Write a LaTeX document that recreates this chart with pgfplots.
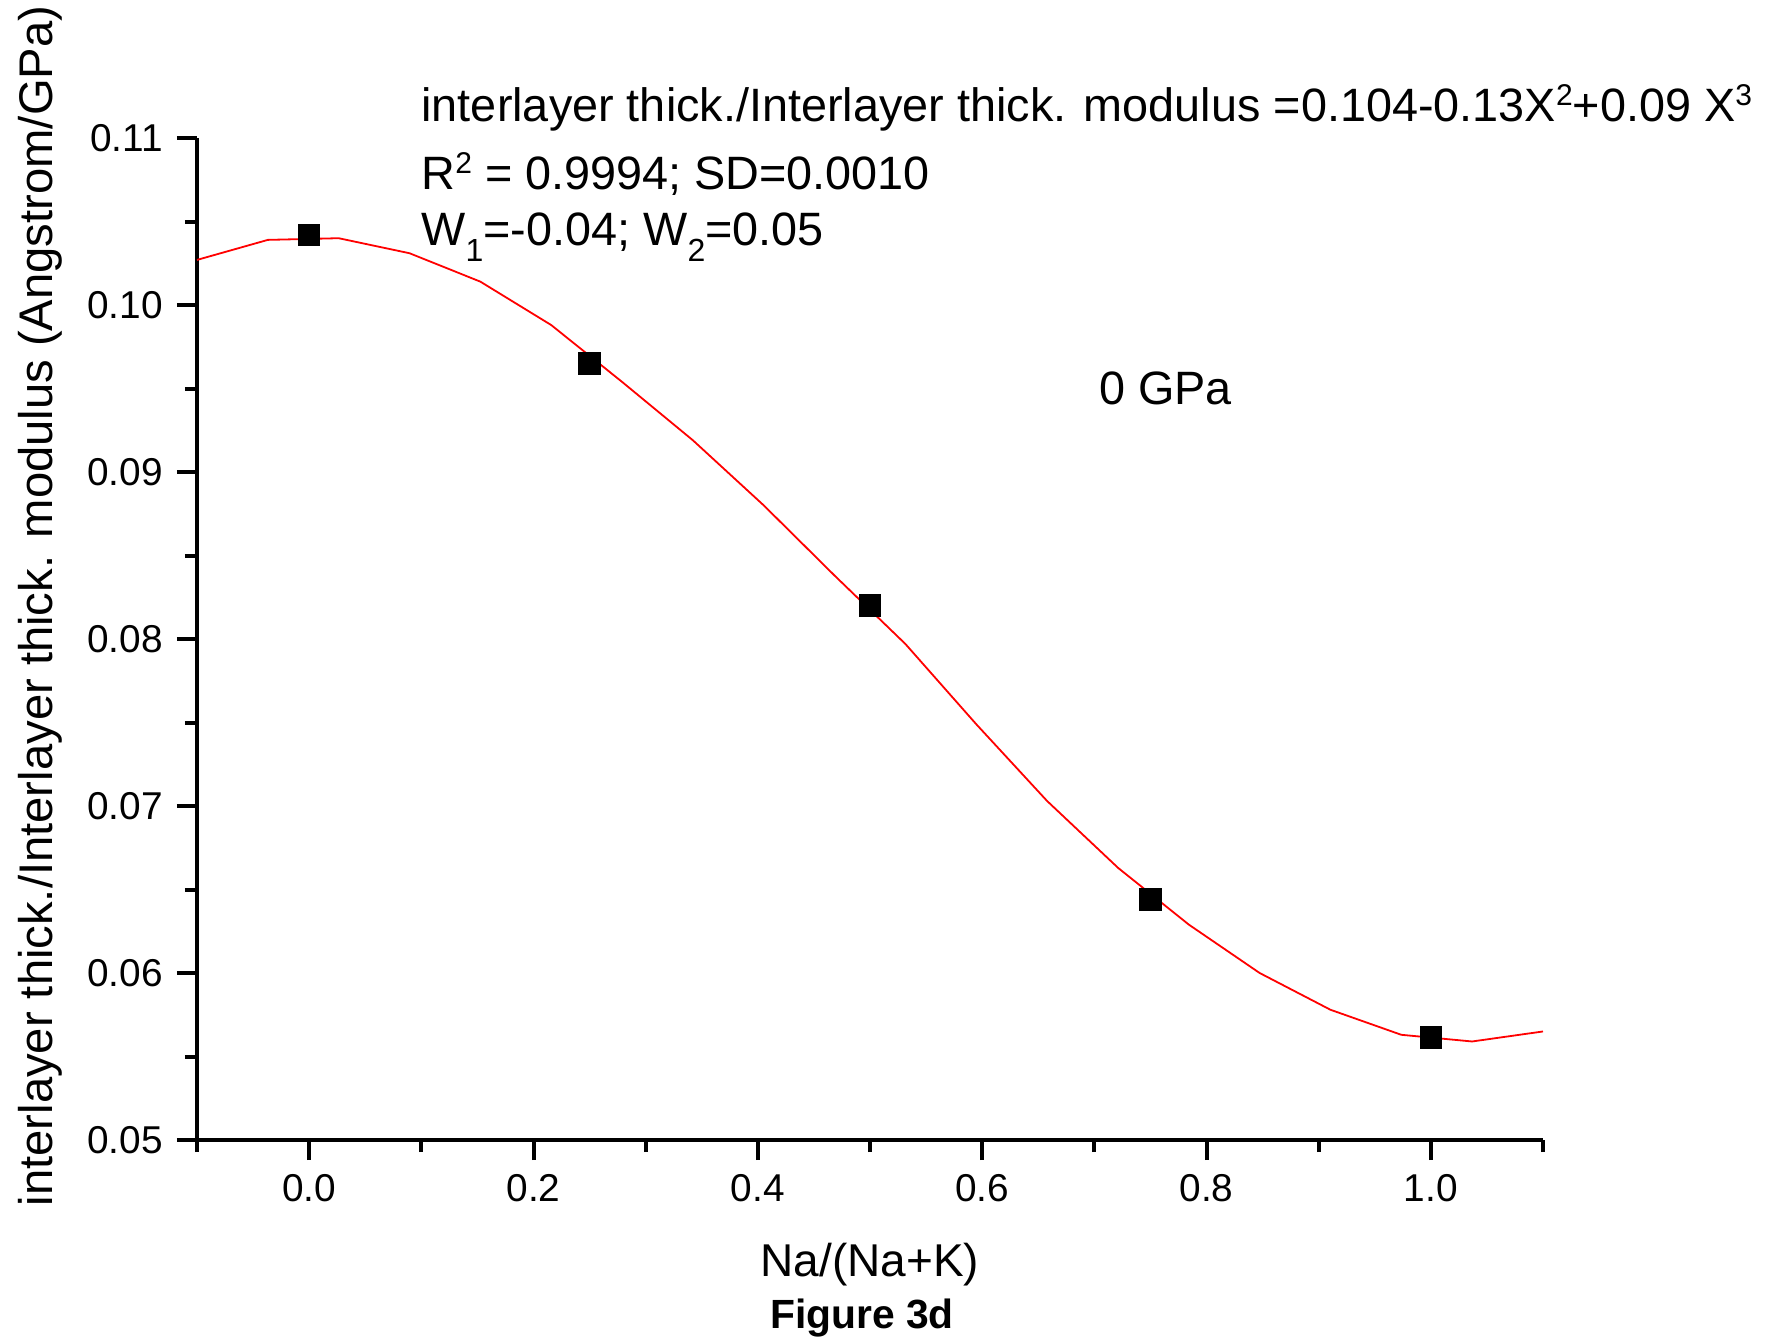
\documentclass[border=0pt]{standalone}
\usepackage{fontspec}
\setmainfont{Liberation Sans}
\usepackage{pgfplots}
\pgfplotsset{compat=1.18}
\newcommand\sups[1]{\raisebox{0.36em}{\fontsize{7.5}{8}\selectfont #1}}
\newcommand\subs[1]{\raisebox{-0.36em}{\fontsize{8}{8}\selectfont #1}}
\begin{document}
\begin{tikzpicture}
\path[use as bounding box] (-49.25pt,-50.25pt) rectangle (397.25pt,285pt);
\begin{axis}[
  at={(0,0)}, anchor=south west,
  scale only axis, width=336.5pt, height=250.5pt,
  xmin=-0.1, xmax=1.1, ymin=0.05, ymax=0.11,
  axis lines*=left,
  axis line style={line width=1pt},
  tick align=outside,
  major tick length=5pt, minor tick length=3pt,
  every tick/.style={black, line width=1pt},
  xtick={0,0.2,0.4,0.6,0.8,1},
  minor xtick={-0.1,0.1,0.3,0.5,0.7,0.9,1.1},
  ytick={0.05,0.06,0.07,0.08,0.09,0.10,0.11},
  minor ytick={0.055,0.065,0.075,0.085,0.095,0.105},
  scaled y ticks=false, scaled x ticks=false,
  xticklabel style={/pgf/number format/.cd, fixed, fixed zerofill, precision=1},
  yticklabel style={/pgf/number format/.cd, fixed, fixed zerofill, precision=2},
  /pgf/number format/assume math mode=true,
  tick label style={font=\fontsize{9.7}{11}\selectfont},
  clip=false,
]
\addplot[only marks, mark=square*, mark size=2.6pt, black] coordinates {
  (0,0.1042) (0.25,0.0965) (0.5,0.0820) (0.75,0.0644) (1.0,0.05615)
};
\addplot[red, line width=0.45pt, mark=none] coordinates {
  (-0.1,0.1027) (-0.0368,0.1039) (0.0263,0.1040) (0.0895,0.1031)
  (0.1526,0.1014) (0.2158,0.0988) (0.2789,0.0954) (0.3421,0.0919)
  (0.4053,0.0880) (0.4684,0.0838) (0.5316,0.0797) (0.5947,0.0749)
  (0.6579,0.0703) (0.7211,0.0663) (0.7842,0.0629) (0.8474,0.0600)
  (0.9105,0.0578) (0.9737,0.0563) (1.0368,0.0559) (1.1,0.0565)
};
\node[anchor=base west, font=\fontsize{11.7}{14}\selectfont, inner sep=0pt] at (axis cs:0.0995,0.11096)
  {interlayer thick./Interlayer thick. modulus =0.104-0.13X\sups{2}+0.09 X\sups{3}};
\node[anchor=base west, font=\fontsize{11.7}{14}\selectfont, inner sep=0pt] at (axis cs:0.0995,0.10689)
  {R\sups{2} = 0.9994; SD=0.0010};
\node[anchor=base west, font=\fontsize{11.7}{14}\selectfont, inner sep=0pt] at (axis cs:0.0995,0.10359)
  {W\subs{1}=-0.04; W\subs{2}=0.05};
\node[font=\fontsize{11.7}{14}\selectfont] at (axis cs:0.7634,0.0950) {0 GPa};
\node[rotate=90, font=\fontsize{11.8}{14}\selectfont] at (rel axis cs:-0.1166,0.533)
  {interlayer thick./Interlayer thick. modulus (Angstrom/GPa)};
\node[yshift=-31.25pt, font=\fontsize{11.5}{14}\selectfont] at (rel axis cs:0.5,0) {Na/(Na+K)};
\node[yshift=-44.5pt, font=\bfseries\fontsize{10.2}{12}\selectfont] at (rel axis cs:0.494,0) {Figure 3d};
\end{axis}
\end{tikzpicture}
\end{document}
